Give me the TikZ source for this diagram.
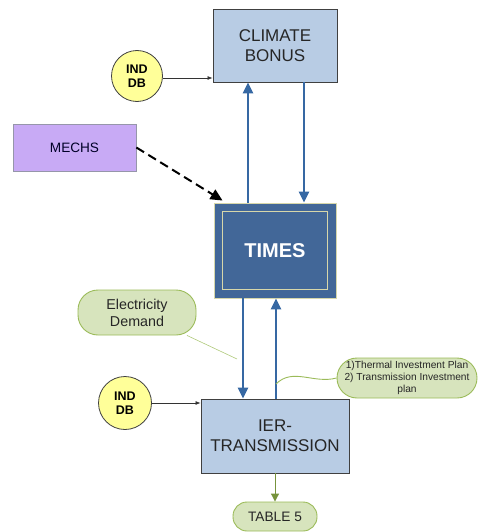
\documentclass[tikz,border=0pt]{standalone}
\usepackage{fontspec}
\setmainfont{Liberation Sans}
\usetikzlibrary{positioning, calc, arrows.meta, shapes}
\definecolor{boxblue}{RGB}{184,204,228}
\definecolor{boxline}{RGB}{64,64,64}
\definecolor{timesblue}{RGB}{66,103,152}
\definecolor{timesline}{RGB}{215,215,170}
\definecolor{flowblue}{RGB}{54,104,163}
\definecolor{mechsfill}{RGB}{200,170,245}
\definecolor{mechsline}{RGB}{150,150,170}
\definecolor{dbyellow}{RGB}{255,255,153}
\definecolor{notegreen}{RGB}{215,228,189}
\definecolor{noteline}{RGB}{155,187,89}
\definecolor{outgreen}{RGB}{119,147,60}

\begin{document}
\begin{tikzpicture}[x=1pt, y=-1pt,
    box/.style={draw=boxline, fill=boxblue, line width=0.9pt, inner sep=0pt,
      align=center, text=black!85, font=\fontsize{17}{20}\selectfont},
    db/.style={circle, draw=boxline, fill=dbyellow, line width=0.8pt, inner sep=0pt,
      align=center, font=\fontsize{12.5}{14}\selectfont\bfseries},
    note/.style={draw=noteline, fill=notegreen, line width=0.9pt, inner sep=0pt,
      align=center, text=black!85},
    flow/.style={draw=flowblue, line width=2.4pt, -{Triangle[width=10pt,length=11pt]}},
    feed/.style={draw=black!80, line width=0.7pt, -{Latex[length=5pt,width=4pt]}}]
  \useasboundingbox (0,0) rectangle (478,532);

  % boxes
  \node[box, minimum width=124pt, minimum height=73pt] (climate) at (275,45.5) {CLIMATE\\BONUS};
  \node[box, fill=timesblue, draw=timesline, minimum width=122pt, minimum height=95pt,
    text=white, font=\fontsize{20}{22}\selectfont\bfseries] (times) at (275,250.5) {TIMES};
  \draw[timesline, line width=1.2pt] ([xshift=9pt,yshift=-9pt]times.north west)
    rectangle ([xshift=-9pt,yshift=9pt]times.south east);
  \node[box, minimum width=148pt, minimum height=74pt] (ier) at (275,436) {IER-\\TRANSMISSION};
  \node[box, fill=mechsfill, draw=mechsline, line width=0.7pt, minimum width=123pt,
    minimum height=47pt, text=black!75!blue!60!black, font=\fontsize{13.6}{15}\selectfont] (mechs) at (74.5,147.5) {MECHS};

  % databases
  \node[db, minimum size=51pt] (topdb) at (137,76) {IND\\DB};
  \node[db, minimum size=53pt] (lowdb) at (125,403) {IND\\DB};

  % notes
  \node[note, rounded corners=20pt, minimum width=118pt, minimum height=45pt,
    font=\fontsize{14.3}{17}\selectfont] (demand) at (137,312.5) {Electricity\\Demand};
  \node[note, rounded corners=20pt, minimum width=140pt, minimum height=40pt,
    font=\fontsize{10.2}{12}\selectfont] (plans) at (407,378)
    {1)Thermal Investment Plan\\2) Transmission Investment\\plan};
  \node[note, rounded corners=14pt, minimum width=84pt, minimum height=29pt,
    font=\fontsize{13.7}{15}\selectfont] (table) at (275,516.5) {TABLE 5};
  \coordinate (demandtip) at (237,359);
  \coordinate (planstip) at (276,384);

  % flows
  \draw[flow] ([xshift=-27pt]times.north) -- ([xshift=-27pt]climate.south);
  \draw[flow] ([xshift=29pt]climate.south) -- ([xshift=29pt]times.north);
  \draw[flow] ([xshift=-32pt]times.south) -- ([xshift=-32pt]ier.north);
  \draw[flow] ([xshift=1pt]ier.north) -- ([xshift=1pt]times.south);
  \draw[feed] (topdb.east |- 0,78) -- (climate.west |- 0,78);
  \draw[feed] (lowdb.east) -- (ier.west |- lowdb.east);
  \draw[line width=2pt, dash pattern=on 9pt off 5pt, -{Triangle[width=11pt,length=12pt]}]
    (mechs.east) -- ([xshift=9pt,yshift=2pt]times.north west);
  \draw[outgreen, line width=1pt, -{Triangle[width=8pt,length=8pt]}] (ier.south) -- (table.north);
  \draw[noteline!80, line width=0.6pt] ([xshift=50pt]demand.south) -- (demandtip);
  \draw[noteline, line width=0.9pt] (planstip) to[out=45, in=195] (plans.west);
\end{tikzpicture}
\end{document}
